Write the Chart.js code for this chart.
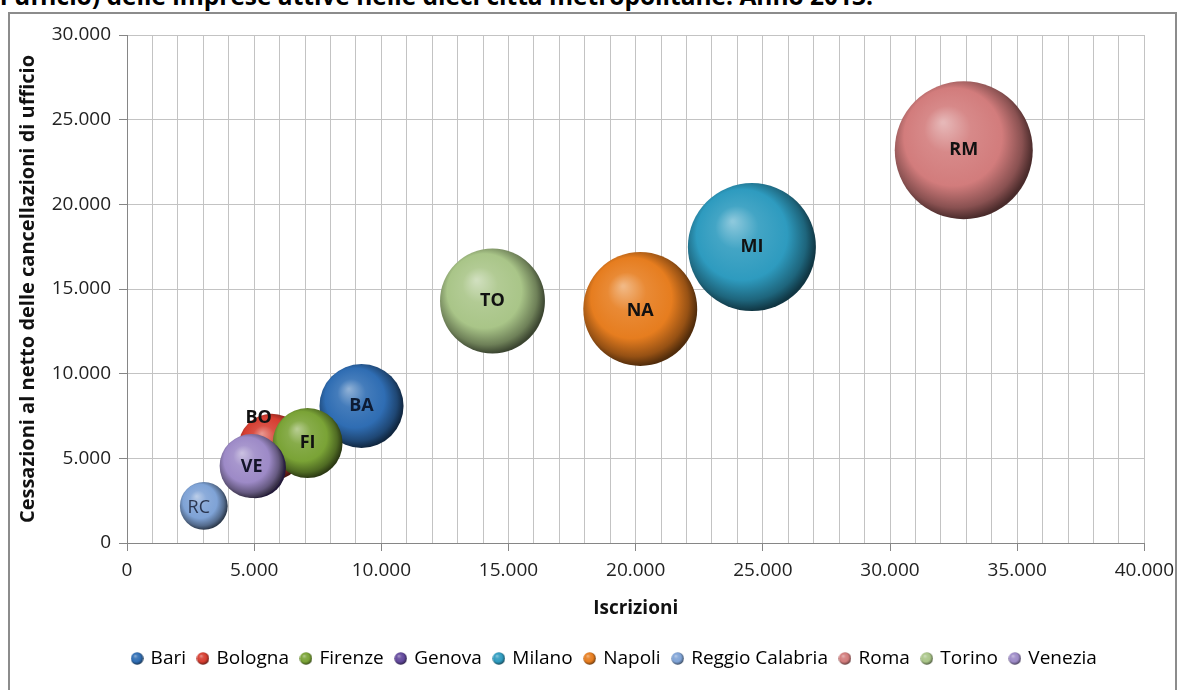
<!DOCTYPE html>
<html lang="it">
<head>
<meta charset="utf-8">
<title>Iscrizioni e cessazioni delle imprese - città metropolitane, 2013</title>
<script src="https://cdn.jsdelivr.net/npm/chart.js@4.4.1/dist/chart.umd.min.js"></script>
<style>
    html, body { margin: 0; padding: 0; background: #fff; overflow: hidden; }
    body { position: relative; width: 1182px; height: 690px; font-family: 'Open Sans', sans-serif; }
    #titolo { position: absolute; left: 0; top: -16px; font: bold 24.5px/24px 'Open Sans', sans-serif; color: #000; white-space: nowrap; }
    #cornice { position: absolute; left: 8px; top: 12px; width: 1169px; height: 700px; border: 2px solid #8c8c8c; box-sizing: border-box; }
    #box { position: absolute; left: 0; top: 0; width: 1182px; height: 690px; }
</style>
</head>
<body>
<div id="titolo">l'ufficio) delle imprese attive nelle dieci città metropolitane. Anno 2013.</div>
<div id="cornice"></div>
<div id="box"><canvas id="grafico" width="1182" height="690"></canvas></div>
<script>
// Città metropolitane (ordine della legenda)
const citta = ['Bari', 'Bologna', 'Firenze', 'Genova', 'Milano', 'Napoli', 'Reggio Calabria', 'Roma', 'Torino', 'Venezia'];
// Sigle mostrate dentro le bolle (Genova resta nascosta dietro Venezia)
const sigle = ['BA', 'BO', 'FI', '', 'MI', 'NA', 'RC', 'RM', 'TO', 'VE'];

// Valori
const iscrizioni = [9220, 5690, 7100, 5050, 24570, 20180, 3020, 32900, 14370, 4900];
const cessazioni = [8090, 5670, 5900, 4450, 17480, 13820, 2190, 23200, 14290, 4550];
// Dimensione delle bolle: imprese attive (stima)
const impreseAttive = [133000, 83000, 92000, 70000, 308000, 244000, 43000, 358000, 207000, 77000];

const colori = ['#2f6db3', '#d63d30', '#7aa336', '#62489c', '#2e9bbf', '#e67d1f', '#7fa3d6', '#d27c7c', '#a9c588', '#9d8ac7'];

// Assi
const X_MIN = 0, X_MAX = 40000, X_PASSO = 1000, X_ETICHETTA = 5000;
const Y_MIN = 0, Y_MAX = 30000, Y_PASSO = 5000;

const R_MAX = 69;
const maxAttive = Math.max(...impreseAttive);

function formatta(v) {
    return String(v).replace(/\B(?=(\d{3})+(?!\d))/g, '.');
}

function mescola(hex, verso, t) {
    const a = parseInt(hex.slice(1), 16), b = parseInt(verso.slice(1), 16);
    const ch = (n, s) => (n >> s) & 255;
    const m = s => Math.round(ch(a, s) + (ch(b, s) - ch(a, s)) * t);
    return `rgb(${m(16)},${m(8)},${m(0)})`;
}

// Gradiente "sferico" come nel grafico di Excel
function gradienteSfera(c, base, cx, cy, r) {
    const g = c.createRadialGradient(cx - r * 0.3, cy - r * 0.4, r * 0.02, cx - r * 0.08, cy - r * 0.08, r * 1.08);
    g.addColorStop(0, mescola(base, '#ffffff', 0.45));
    g.addColorStop(0.3, mescola(base, '#ffffff', 0.1));
    g.addColorStop(0.65, base);
    g.addColorStop(0.88, mescola(base, '#000000', 0.35));
    g.addColorStop(1, mescola(base, '#000000', 0.65));
    return g;
}

function sfera(context) {
    const i = context.datasetIndex;
    const base = colori[i];
    if (context.type !== 'data' || !context.raw) return base;
    const chart = context.chart;
    const sx = chart.scales.x, sy = chart.scales.y;
    if (!sx || !sy) return base;
    const cx = sx.getPixelForValue(context.raw.x);
    const cy = sy.getPixelForValue(context.raw.y);
    if (!isFinite(cx) || !isFinite(cy)) return base;
    return gradienteSfera(chart.ctx, base, cx, cy, context.raw.r);
}

// Piccole sfere per la legenda
function iconaLegenda(base) {
    const cv = document.createElement('canvas');
    cv.width = 13; cv.height = 13;
    const c = cv.getContext('2d');
    c.fillStyle = gradienteSfera(c, base, 6.5, 6.5, 6.5);
    c.beginPath();
    c.arc(6.5, 6.5, 6.2, 0, Math.PI * 2);
    c.fill();
    return cv;
}
const icone = colori.map(iconaLegenda);

const datasets = citta.map((nome, i) => ({
    label: nome,
    data: [{ x: iscrizioni[i], y: cessazioni[i], r: R_MAX * Math.sqrt(impreseAttive[i] / maxAttive) }],
    backgroundColor: sfera,
    borderWidth: 0,
    // le serie successive stanno sopra, come in Excel
    order: citta.length - i
}));

// Stile delle sigle dentro le bolle
const stileSigle = {
    BO: { dx: -13, dy: -29 },
    RC: { dx: -5, dy: 2, weight: 'normal', color: '#2a3650' },
    NA: { dy: 2 },
    VE: { dy: 1, color: '#14142a' },
    BA: { color: '#0d1b33' }
};

const sigleBolle = {
    id: 'sigleBolle',
    afterDatasetsDraw(chart) {
        const c = chart.ctx;
        chart.data.datasets.forEach((ds, i) => {
            const testo = sigle[i];
            if (!testo) return;
            const el = chart.getDatasetMeta(i).data[0];
            const st = stileSigle[testo] || {};
            c.save();
            c.font = (st.weight || 'bold') + ' 18px "Open Sans", sans-serif';
            c.fillStyle = st.color || '#111';
            c.textAlign = 'center';
            c.textBaseline = 'middle';
            c.fillText(testo, el.x + (st.dx || 0), el.y + (st.dy || 0));
            c.restore();
        });
    }
};

// La legenda nell'originale è centrata un po' più a destra
const spostaLegenda = {
    id: 'spostaLegenda',
    afterLayout(chart) {
        if (!chart.legend) return;
        chart.legend.left += 42;
        chart.legend.right += 42;
    }
};

const GRIGLIA = '#c3c3c3';
const ASSE = '#868686';

new Chart(document.getElementById('grafico'), {
    type: 'bubble',
    data: { datasets: datasets },
    plugins: [sigleBolle, spostaLegenda],
    options: {
        responsive: false,
        animation: false,
        events: [],
        layout: { autoPadding: false, padding: { left: 0, right: 36, top: 35, bottom: 12 } },
        scales: {
            x: {
                type: 'linear',
                min: X_MIN,
                max: X_MAX,
                afterBuildTicks(scale) {
                    const t = [];
                    for (let v = X_MIN; v <= X_MAX; v += X_PASSO) t.push({ value: v });
                    scale.ticks = t;
                },
                afterFit(scale) { scale.height = 93; },
                grid: {
                    color: GRIGLIA,
                    tickLength: 8,
                    tickColor: ctx => (ctx.tick && ctx.tick.value % X_ETICHETTA === 0) ? ASSE : 'rgba(0,0,0,0)'
                },
                border: { color: ASSE, width: 1 },
                ticks: {
                    autoSkip: false,
                    maxRotation: 0,
                    padding: 8,
                    color: '#222',
                    font: { family: 'Open Sans', size: 19 },
                    callback: v => (v % X_ETICHETTA === 0) ? formatta(v) : ''
                },
                title: {
                    display: true,
                    text: 'Iscrizioni',
                    color: '#111',
                    font: { family: 'Open Sans', size: 19, weight: 'bold' },
                    padding: { top: 0, bottom: 16 }
                }
            },
            y: {
                type: 'linear',
                min: Y_MIN,
                max: Y_MAX,
                afterFit(scale) { scale.width = 127; },
                grid: { color: GRIGLIA, tickLength: 8, tickColor: ASSE },
                border: { color: ASSE, width: 1 },
                ticks: {
                    stepSize: Y_PASSO,
                    padding: 8,
                    color: '#222',
                    font: { family: 'Open Sans', size: 19 },
                    callback: v => formatta(v)
                },
                title: {
                    display: true,
                    text: 'Cessazioni al netto delle cancellazioni di ufficio',
                    color: '#111',
                    font: { family: 'Open Sans', size: 20, weight: 'bold' },
                    padding: { top: 16, bottom: 0 }
                }
            }
        },
        plugins: {
            tooltip: { enabled: false },
            legend: {
                position: 'bottom',
                labels: {
                    usePointStyle: true,
                    boxWidth: 8,
                    boxHeight: 13,
                    padding: 13,
                    color: '#222',
                    font: { family: 'Open Sans', size: 19 },
                    generateLabels: chart => chart.data.datasets.map((ds, i) => ({
                        text: ds.label,
                        fillStyle: colori[i],
                        strokeStyle: colori[i],
                        lineWidth: 0,
                        pointStyle: icone[i],
                        hidden: false,
                        datasetIndex: i
                    }))
                }
            }
        }
    }
});
</script>
</body>
</html>
